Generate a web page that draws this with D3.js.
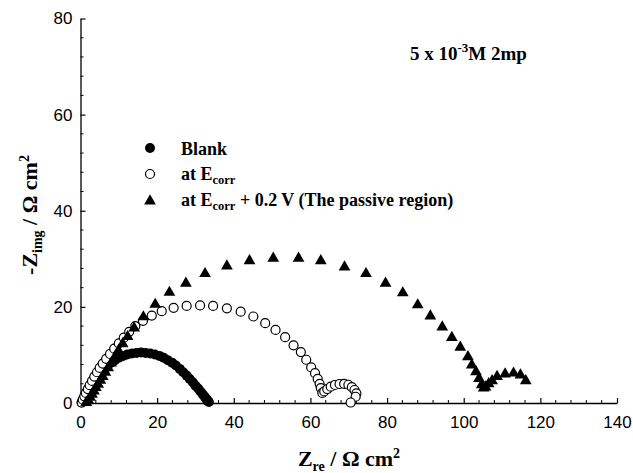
<!DOCTYPE html>
<html>
<head>
<meta charset="utf-8">
<script src="https://cdn.jsdelivr.net/npm/d3@7"></script>
<style>
  html, body { margin: 0; padding: 0; background: #fff; }
  svg { display: block; }
  .tick text { font-family: "Liberation Sans", Arial, sans-serif; font-size: 17px; fill: #000; }
  .serif { font-family: "Liberation Serif", "Times New Roman", serif; font-weight: bold; fill: #000; }
</style>
</head>
<body>
<svg id="chart" width="633" height="473"></svg>
<script>
// Nyquist data [Z_re, -Z_img] in Ω cm²
const blank = [
  [0.3,0.1],[0.5,0.5],[0.8,1.0],[1.1,1.5],[1.5,2.1],[1.9,2.7],[2.4,3.3],[2.9,3.9],
  [3.5,4.6],[4.1,5.2],[4.8,5.9],[5.5,6.5],[6.3,7.2],[7.1,7.8],[8.0,8.4],[9.0,8.9],
  [10.0,9.4],[11.1,9.8],[12.2,10.1],[13.4,10.3],[14.6,10.4],[15.8,10.5],[17.0,10.4],
  [18.2,10.3],[19.4,10.1],[20.6,9.8],[21.7,9.4],[22.8,8.9],[23.9,8.4],[24.9,7.8],
  [25.9,7.1],[26.8,6.4],[27.7,5.7],[28.5,5.0],[29.3,4.3],[30.0,3.6],[30.7,3.0],
  [31.3,2.4],[31.9,1.8],[32.4,1.3],[32.8,0.9],[33.2,0.5],[33.5,0.2]
];
const atEcorr = [
  [0.3,0.1],[0.6,0.7],[1.0,1.4],[1.4,2.1],[1.9,2.9],[2.4,3.7],[3.0,4.6],[3.6,5.5],
  [4.3,6.4],[5.0,7.3],[5.8,8.2],[6.7,9.2],[7.7,10.2],[8.8,11.3],[10.0,12.4],[11.3,13.6],
  [12.7,14.8],[14.3,16.0],[16.3,17.1],[18.6,18.2],[21.2,19.1],[24.3,19.8],[27.7,20.2],
  [31.2,20.3],[34.6,20.2],[38.2,19.7],[41.8,19.0],[45.1,18.0],[48.2,16.6],[50.9,15.2],
  [53.4,13.7],[55.6,12.0],[57.5,10.6],[58.9,9.0],[60.2,7.4],[61.2,6.2],[61.9,5.0],
  [62.4,4.0],[62.7,3.1],[63.1,2.1],[63.6,2.4],[64.4,2.9],[65.3,3.4],[66.4,3.75],
  [67.6,3.95],[68.8,4.0],[69.9,3.8],[70.8,3.3],[71.5,2.7],[72.0,2.0],[71.8,1.3],[70.5,0.1]
];
const passive = [
  [1.5,0.1],[2.0,0.6],[2.5,1.2],[3.0,1.8],[3.5,2.5],[4.0,3.2],[4.6,3.9],[5.2,4.7],
  [5.8,5.5],[6.5,6.4],[7.2,7.3],[8.0,8.3],[8.9,9.5],[9.9,10.9],[11.0,12.3],[12.3,13.8],
  [14.0,15.6],[16.4,17.9],[19.5,20.5],[23.2,23.0],[27.5,24.9],[32.5,26.9],[38.2,28.5],
  [44.1,29.6],[50.3,30.1],[56.9,30.1],[62.7,29.6],[68.9,28.3],[74.5,26.9],[79.6,24.9],
  [84.1,22.9],[88.0,20.4],[91.3,18.1],[94.4,15.8],[96.9,13.6],[99.1,11.6],[101.1,9.6],
  [102.1,7.9],[103.2,6.5],[104.0,5.1],[104.7,3.8],[105.2,3.1],[105.7,3.3],[106.5,4.0],
  [107.4,4.6],[108.7,5.5],[110.8,6.0],[113.0,6.2],[114.8,5.8],[116.2,4.6]
];
const xTicks = [0, 20, 40, 60, 80, 100, 120, 140];
const yTicks = [0, 20, 40, 60, 80];

const svg = d3.select("#chart");
const x = d3.scaleLinear().domain([0, 140]).range([80.5, 617]);
const y = d3.scaleLinear().domain([0, 80]).range([403, 18.5]);

const minorX = d3.range(0, 141, 4).filter(v => v % 20 !== 0);
const minorY = d3.range(0, 81, 4).filter(v => v % 20 !== 0);

// axes: ticks point inward
const gx = svg.append("g").attr("transform", `translate(0,${y(0)})`)
  .call(d3.axisBottom(x).tickValues(xTicks).tickSizeInner(-5).tickSizeOuter(0).tickPadding(13));
gx.append("g").selectAll("line").data(minorX).join("line")
  .attr("x1", d => x(d)).attr("x2", d => x(d)).attr("y1", 0).attr("y2", -3).attr("stroke", "#000");

const gy = svg.append("g").attr("transform", `translate(${x(0)},0)`)
  .call(d3.axisLeft(y).tickValues(yTicks).tickSizeInner(-5).tickSizeOuter(0).tickPadding(8));
gy.append("g").selectAll("line").data(minorY).join("line")
  .attr("y1", d => y(d)).attr("y2", d => y(d)).attr("x1", 0).attr("x2", 3).attr("stroke", "#000");

svg.selectAll(".domain").attr("stroke-width", 1.3);
svg.selectAll(".tick line").attr("stroke-width", 1.2);

// series
svg.append("g").selectAll("circle").data(blank).join("circle")
  .attr("cx", d => x(d[0])).attr("cy", d => y(d[1])).attr("r", 5).attr("fill", "#000");

svg.append("g").selectAll("circle").data(atEcorr).join("circle")
  .attr("cx", d => x(d[0])).attr("cy", d => y(d[1])).attr("r", 4.5)
  .attr("fill", "#fff").attr("stroke", "#000").attr("stroke-width", 1.2);

const tri = d3.symbol().type(d3.symbolTriangle).size(60);
svg.append("g").selectAll("path").data(passive).join("path")
  .attr("d", tri).attr("transform", d => `translate(${x(d[0])},${y(d[1])})`).attr("fill", "#000");

// legend
const legend = svg.append("g");
legend.append("circle").attr("cx", 150).attr("cy", 148).attr("r", 5).attr("fill", "#000");
legend.append("circle").attr("cx", 150).attr("cy", 174).attr("r", 4.5)
  .attr("fill", "#fff").attr("stroke", "#000").attr("stroke-width", 1.2);
legend.append("path").attr("d", tri).attr("transform", "translate(150,201)").attr("fill", "#000");

legend.append("text").attr("class", "serif").attr("x", 181).attr("y", 155)
  .attr("font-size", 18).text("Blank");
const t2 = legend.append("text").attr("class", "serif").attr("x", 181).attr("y", 180).attr("font-size", 18);
t2.append("tspan").text("at E");
t2.append("tspan").attr("font-size", 12.5).attr("dy", 4).text("corr");
const t3 = legend.append("text").attr("class", "serif").attr("x", 181).attr("y", 206).attr("font-size", 18);
t3.append("tspan").text("at E");
t3.append("tspan").attr("font-size", 12.5).attr("dy", 4).text("corr");
t3.append("tspan").attr("dy", -4).text(" + 0.2 V (The passive region)");

// concentration note
const note = svg.append("text").attr("class", "serif").attr("x", 410).attr("y", 60).attr("font-size", 19);
note.append("tspan").text("5 x 10");
note.append("tspan").attr("font-size", 13).attr("dy", -8).text("-3");
note.append("tspan").attr("dy", 8).text("M 2mp");

// axis titles
const xt = svg.append("text").attr("class", "serif").attr("x", 349).attr("y", 466)
  .attr("text-anchor", "middle").attr("font-size", 22);
xt.append("tspan").text("Z");
xt.append("tspan").attr("font-size", 14).attr("dy", 5).text("re");
xt.append("tspan").attr("dy", -5).text("  / Ω cm");
xt.append("tspan").attr("font-size", 14).attr("dy", -8).text("2");

const yt = svg.append("text").attr("class", "serif")
  .attr("transform", "translate(37,215) rotate(-90)")
  .attr("text-anchor", "middle").attr("font-size", 22);
yt.append("tspan").text("-Z");
yt.append("tspan").attr("font-size", 14).attr("dy", 5).text("img");
yt.append("tspan").attr("dy", -5).text("  / Ω cm");
yt.append("tspan").attr("font-size", 14).attr("dy", -8).text("2");
</script>
</body>
</html>
